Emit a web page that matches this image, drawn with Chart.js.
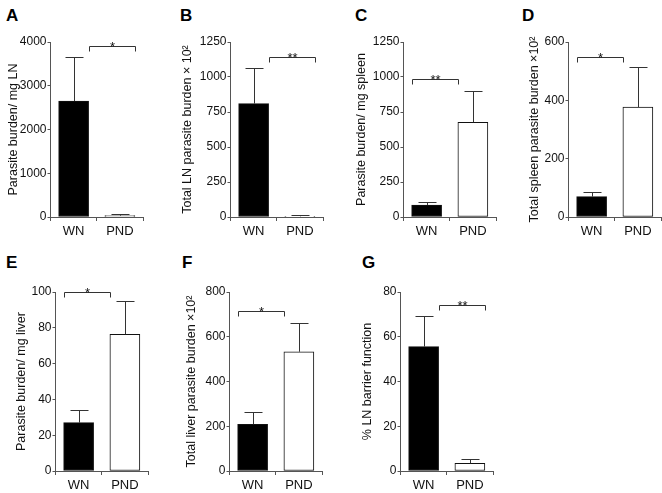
<!DOCTYPE html>
<html>
<head>
<meta charset="utf-8">
<script src="https://cdn.jsdelivr.net/npm/chart.js@4/dist/chart.umd.min.js"></script>
<style>
	body{margin:0;background:#fff;width:662px;height:493px;position:relative;overflow:hidden;}
	canvas{position:absolute;}
	.letra{position:absolute;font:bold 17px 'Liberation Sans',Arial,sans-serif;line-height:1;color:#000;}
</style>
</head>
<body>
<script>
var grupos=['WN','PND'];
var letras=['A','B','C','D','E','F','G'];
var titulos=[
	'Parasite burden/ mg LN',
	'Total LN parasite burden \u00d7 10\u00b2',
	'Parasite burden/ mg spleen',
	'Total spleen parasite burden \u00d710\u00b2',
	'Parasite burden/ mg liver',
	'Total liver parasite burden \u00d710\u00b2',
	'% LN barrier function'
];
var medias=[[2650,30],[810,5],[86,677],[70,377],[27,76.4],[209,533],[55.6,3.4]];
var errores=[[1010,30],[253,7],[19,223],[17,136],[7,18.7],[53,130],[13.8,1.8]];
var maximos=[4000,1250,1250,600,100,800,80];
var pasos=[1000,250,250,200,20,200,20];
var corchetes=[3909,1140,989,547,100,716,74];
var estrellas=['*','**','**','*','*','*','**'];

// posicion de cada panel: eje x, arriba, cero, centro del titulo, corrimiento del corchete, letra
var paneles=[
	{eje:50, arriba:42, cero:217, tit:13, corr:1, lx:6, ly:7},
	{eje:230, arriba:42, cero:217, tit:187, corr:1, lx:180, ly:7},
	{eje:403, arriba:42, cero:217, tit:361, corr:-1, lx:355, ly:7},
	{eje:568, arriba:42, cero:217, tit:534, corr:-1, lx:522, ly:7},
	{eje:55, arriba:292, cero:471, tit:21, corr:-1, lx:6, ly:254},
	{eje:229, arriba:292, cero:471, tit:191, corr:-1, lx:182, ly:254},
	{eje:400, arriba:292, cero:471, tit:367, corr:1, lx:362, ly:254}
];

var fuente="'Liberation Sans', Arial, sans-serif";

function linea(ctx,x1,y1,x2,y2){
	ctx.beginPath();
	ctx.moveTo(x1,y1);
	ctx.lineTo(x2,y2);
	ctx.stroke();
}

var extras={
	id:'extras',
	afterDatasetsDraw:function(chart){
		var i=chart.options.plugins.extras.panel;
		var ctx=chart.ctx;
		var y=chart.scales.y;
		var barras=chart.getDatasetMeta(0).data;
		ctx.save();
		ctx.strokeStyle='#333';
		ctx.lineWidth=1;
		// barras de error (solo hacia arriba)
		for(var k=0;k<barras.length;k++){
			var x=Math.round(barras[k].x)+0.5;
			var y0=y.getPixelForValue(medias[i][k]);
			var y1=Math.round(y.getPixelForValue(medias[i][k]+errores[i][k]))+0.5;
			linea(ctx,x,y0,x,y1);
			linea(ctx,x-9,y1,x+9,y1);
		}
		// corchete de significancia
		var medio=barras[0].width/2*paneles[i].corr;
		var xa=Math.round(barras[0].x+medio)+0.5;
		var xb=Math.round(barras[1].x+medio)+0.5;
		var yc=Math.round(y.getPixelForValue(corchetes[i]))+0.5;
		ctx.beginPath();
		ctx.moveTo(xa,yc+5);
		ctx.lineTo(xa,yc);
		ctx.lineTo(xb,yc);
		ctx.lineTo(xb,yc+5);
		ctx.stroke();
		ctx.fillStyle='#111';
		ctx.font='13px '+fuente;
		ctx.textAlign='center';
		ctx.textBaseline='alphabetic';
		ctx.fillText(estrellas[i],(xa+xb)/2,yc+4);
		ctx.restore();
	}
};

function graficar(i){
	var p=paneles[i];
	var izq=p.tit-7.5;
	var arriba=p.arriba-14;
	var ancho=p.eje+93+8-izq;
	var alto=p.cero+30-arriba;
	var lienzo=document.createElement('canvas');
	lienzo.width=ancho;
	lienzo.height=alto;
	lienzo.style.left=izq+'px';
	lienzo.style.top=arriba+'px';
	lienzo.style.width=ancho+'px';
	lienzo.style.height=alto+'px';
	document.body.appendChild(lienzo);

	var letra=document.createElement('div');
	letra.className='letra';
	letra.innerHTML=letras[i];
	letra.style.left=p.lx+'px';
	letra.style.top=p.ly+'px';
	document.body.appendChild(letra);

	new Chart(lienzo,{
		type:'bar',
		data:{
			labels:grupos,
			datasets:[{
				data:medias[i],
				backgroundColor:['#000','#fff'],
				borderColor:'#111',
				borderWidth:1,
				borderSkipped:false,
				barThickness:30
			}]
		},
		options:{
			responsive:false,
			animation:false,
			layout:{padding:{top:14,right:8,left:0,bottom:0}},
			plugins:{
				legend:{display:false},
				tooltip:{enabled:false},
				extras:{panel:i}
			},
			scales:{
				x:{
					offset:true,
					grid:{display:true,drawOnChartArea:false,drawTicks:true,tickLength:4,color:'#555'},
					border:{display:true,color:'#555',width:1},
					ticks:{color:'#111',font:{family:fuente,size:13},padding:3},
					afterFit:function(s){s.height=30;}
				},
				y:{
					min:0,
					max:maximos[i],
					grid:{display:true,drawOnChartArea:false,drawTicks:true,tickLength:3,color:'#555'},
					border:{display:true,color:'#555',width:1},
					ticks:{stepSize:pasos[i],color:'#111',font:{family:fuente,size:12},padding:1,
						callback:function(v){return v;}},
					title:{display:true,text:titulos[i],color:'#111',font:{family:fuente,size:12.5},padding:0},
					afterFit:function(s){s.width=p.eje-izq;}
				}
			}
		},
		plugins:[extras]
	});
}

for(var n=0;n<paneles.length;n++){
	graficar(n);
}
</script>
</body>
</html>
